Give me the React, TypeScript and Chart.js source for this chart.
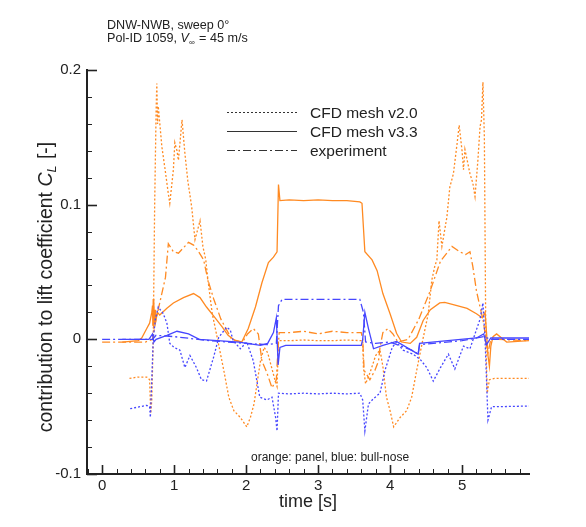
import React, { useEffect, useRef } from 'react';
import { Chart, registerables } from 'chart.js';

Chart.register(...registerables);

// ---------- data (time [s], contribution to C_L) ----------
const panelV20T = [0.38, 0.5, 0.62, 0.66, 0.675, 0.69, 0.71, 0.73, 0.75, 0.76, 0.77, 0.78, 0.81, 0.83, 0.875, 0.92, 0.94, 0.99, 1.01, 1.04, 1.06, 1.11, 1.15, 1.19, 1.245, 1.29, 1.36, 1.4, 1.44, 1.47, 1.53, 1.6, 1.69, 1.76, 1.83, 1.92, 2.01, 2.06, 2.11, 2.16, 2.2, 2.25, 2.3, 2.35, 2.4, 2.43, 2.45, 2.6, 2.8, 3.0, 3.2, 3.4, 3.6, 3.62, 3.63, 3.66, 3.72, 3.8, 3.86, 3.9, 3.95, 4.0, 4.05, 4.14, 4.23, 4.3, 4.37, 4.46, 4.53, 4.58, 4.62, 4.65, 4.68, 4.72, 4.79, 4.83, 4.88, 4.93, 4.96, 5.0, 5.02, 5.04, 5.11, 5.15, 5.18, 5.22, 5.25, 5.27, 5.29, 5.31, 5.33, 5.35, 5.38, 5.45, 5.93];
const panelV20CL = [-0.029, -0.028, -0.028, -0.03, -0.055, -0.045, 0.0, 0.1, 0.17, 0.19, 0.16, 0.173, 0.155, 0.143, 0.126, 0.108, 0.101, 0.126, 0.146, 0.14, 0.133, 0.163, 0.138, 0.118, 0.098, 0.074, 0.088, 0.069, 0.059, 0.044, 0.019, 0.001, -0.023, -0.043, -0.053, -0.058, -0.065, -0.058, -0.048, -0.03, -0.016, -0.006, -0.01, -0.02, -0.03, -0.035, -0.001, -0.001, -0.0005, -0.001, -0.001, -0.0005, -0.001, -0.001, -0.021, -0.033, -0.025, -0.012, -0.008, -0.02, -0.043, -0.053, -0.065, -0.058, -0.053, -0.043, -0.023, 0.001, 0.019, 0.044, 0.054, 0.059, 0.088, 0.069, 0.091, 0.113, 0.123, 0.145, 0.159, 0.14, 0.126, 0.141, 0.123, 0.116, 0.106, 0.133, 0.158, 0.163, 0.191, 0.15, 0.0, -0.04, -0.03, -0.029, -0.029];

const panelV33T = [0.28, 0.5, 0.55, 0.62, 0.66, 0.69, 0.7, 0.705, 0.71, 0.715, 0.72, 0.73, 0.74, 0.75, 0.77, 0.8, 0.9, 0.99, 1.13, 1.27, 1.36, 1.45, 1.57, 1.67, 1.75, 1.85, 1.94, 2.03, 2.13, 2.22, 2.31, 2.38, 2.43, 2.45, 2.47, 2.6, 2.8, 3.0, 3.2, 3.4, 3.58, 3.61, 3.65, 3.75, 3.82, 3.9, 4.0, 4.09, 4.16, 4.28, 4.37, 4.46, 4.56, 4.69, 4.76, 4.93, 5.07, 5.2, 5.28, 5.32, 5.34, 5.36, 5.38, 5.4, 5.43, 5.48, 5.55, 5.62, 5.93];
const panelV33CL = [-0.002, -0.001, 0.001, 0.008, 0.012, 0.02, 0.025, 0.01, 0.03, 0.008, 0.027, 0.012, 0.022, 0.015, 0.02, 0.018, 0.023, 0.027, 0.031, 0.034, 0.031, 0.024, 0.016, 0.009, 0.003, -0.001, -0.002, 0.008, 0.024, 0.042, 0.057, 0.061, 0.065, 0.115, 0.103, 0.1035, 0.103, 0.1035, 0.103, 0.103, 0.102, 0.101, 0.065, 0.059, 0.051, 0.034, 0.019, 0.0045, -0.002, -0.003, 0.0015, 0.014, 0.022, 0.027, 0.0275, 0.025, 0.023, 0.019, 0.016, 0.02, 0.005, -0.012, -0.02, -0.005, 0.002, 0.004, 0.001, -0.002, -0.001];

const panelExpT = [0.0, 0.3, 0.6, 0.7, 0.75, 0.8, 0.88, 0.92, 0.99, 1.06, 1.13, 1.2, 1.27, 1.33, 1.41, 1.47, 1.55, 1.65, 1.8, 1.95, 2.02, 2.1, 2.17, 2.22, 2.29, 2.36, 2.42, 2.44, 2.46, 2.6, 2.8, 3.0, 3.2, 3.4, 3.6, 3.62, 3.64, 3.72, 3.79, 3.84, 3.86, 3.9, 3.97, 4.04, 4.11, 4.25, 4.4, 4.55, 4.7, 4.86, 4.97, 5.05, 5.11, 5.15, 5.2, 5.25, 5.3, 5.33, 5.36, 5.4, 5.5, 5.93];
const panelExpCL = [-0.002, -0.002, -0.002, 0.0, 0.015, 0.027, 0.046, 0.071, 0.065, 0.064, 0.068, 0.072, 0.07, 0.066, 0.059, 0.044, 0.03, 0.015, 0.0, -0.002, 0.004, 0.008, 0.004, -0.016, -0.025, -0.036, -0.03, -0.01, 0.005, 0.005, 0.006, 0.004, 0.006, 0.005, 0.005, 0.0, -0.023, -0.03, -0.023, -0.016, -0.006, 0.005, 0.008, 0.004, -0.002, 0.0, 0.015, 0.035, 0.058, 0.069, 0.065, 0.063, 0.065, 0.054, 0.036, 0.024, 0.012, 0.0, -0.01, 0.0, 0.0, -0.001];

const noseV20T = [0.39, 0.62, 0.66, 0.67, 0.69, 0.71, 0.74, 0.78, 0.85, 0.9, 0.94, 1.0, 1.08, 1.15, 1.22, 1.31, 1.38, 1.45, 1.55, 1.62, 1.73, 1.78, 1.82, 1.92, 2.01, 2.1, 2.19, 2.29, 2.36, 2.41, 2.43, 2.45, 2.6, 2.8, 3.0, 3.2, 3.4, 3.58, 3.62, 3.65, 3.7, 3.77, 3.86, 3.93, 4.03, 4.09, 4.18, 4.32, 4.42, 4.51, 4.6, 4.7, 4.81, 4.9, 5.02, 5.11, 5.18, 5.25, 5.29, 5.32, 5.36, 5.41, 5.53, 5.94];
const noseV20CL = [-0.0515, -0.049, -0.05, -0.058, -0.03, 0.0, 0.015, 0.024, 0.019, 0.012, -0.003, -0.006, -0.008, -0.021, -0.012, -0.021, -0.03, -0.031, -0.013, 0.0015, 0.009, 0.007, -0.001, -0.007, -0.002, -0.016, -0.043, -0.045, -0.043, -0.058, -0.068, -0.04, -0.0405, -0.04, -0.0405, -0.04, -0.0405, -0.04, -0.045, -0.068, -0.048, -0.044, -0.04, -0.023, -0.006, -0.002, -0.008, -0.011, -0.015, -0.021, -0.031, -0.021, -0.011, -0.022, -0.005, -0.007, 0.004, 0.015, 0.027, 0.0, -0.06, -0.05, -0.05, -0.0495];

const noseV33T = [0.28, 0.65, 0.7, 0.72, 0.75, 0.9, 1.04, 1.2, 1.35, 1.6, 1.9, 2.2, 2.3, 2.38, 2.42, 2.445, 2.47, 2.55, 3.0, 3.6, 3.62, 3.65, 3.7, 3.77, 3.9, 4.09, 4.39, 4.41, 4.8, 5.2, 5.3, 5.34, 5.4, 5.93];
const noseV33CL = [0.0, 0.0, 0.004, -0.002, 0.0, 0.003, 0.006, 0.004, 0.0, -0.001, -0.002, -0.0045, -0.003, 0.005, 0.016, -0.019, -0.006, -0.0045, -0.0045, -0.0045, 0.0, 0.02, 0.008, -0.007, -0.0045, -0.0015, -0.011, -0.003, -0.001, 0.001, 0.004, -0.004, 0.001, 0.001];

const noseExpT = [0.0, 0.6, 0.7, 0.75, 1.0, 1.5, 2.0, 2.3, 2.42, 2.45, 2.5, 3.0, 3.58, 3.63, 3.66, 3.8, 4.0, 4.3, 4.39, 4.41, 5.0, 5.3, 5.4, 5.93];
const noseExpCL = [0.0, 0.0, 0.0, 0.003, 0.002, -0.001, -0.003, -0.004, -0.003, 0.025, 0.0297, 0.0297, 0.0297, 0.02, -0.002, -0.003, -0.002, -0.008, -0.011, -0.004, -0.001, 0.002, 0.0, 0.0];

const xTickValues = [0, 1, 2, 3, 4, 5];
const yTickValues = [-0.1, 0, 0.1, 0.2];
const legendLabels = ['CFD mesh v2.0', 'CFD mesh v3.3', 'experiment'];

// ---------- styling ----------
const ORANGE = '#ff8a22';
const BLUE = '#4646ff';
const FONT = '"Liberation Sans", Arial, Helvetica, sans-serif';
const DOT = [2, 2];
const DASHDOT = [8, 3, 2, 3];
const INK = '#222';

const pts = (t: number[], v: number[]) => t.map((x, i) => ({ x, y: v[i] }));

const decor = {
  id: 'decor',
  afterDraw(chart: any) {
    const { ctx, chartArea, scales } = chart;
    const xs = scales.x;
    const ys = scales.y;
    ctx.save();
    ctx.strokeStyle = INK;
    ctx.setLineDash([]);
    // inward x ticks
    for (let i = -1; i <= 29; i++) {
      const v = i * 0.2;
      if (v < xs.min - 1e-9 || v > xs.max + 1e-9) continue;
      const major = i % 5 === 0;
      const px = Math.round(xs.getPixelForValue(v)) + 0.5;
      ctx.lineWidth = major ? 1.6 : 1;
      ctx.beginPath();
      ctx.moveTo(px, chartArea.bottom);
      ctx.lineTo(px, chartArea.bottom - (major ? 9 : 5));
      ctx.stroke();
    }
    // inward y ticks
    for (let j = -5; j <= 10; j++) {
      const v = j * 0.02;
      const major = j % 5 === 0;
      const py = Math.round(ys.getPixelForValue(v)) + 0.5;
      ctx.lineWidth = major ? 1.6 : 1;
      ctx.beginPath();
      ctx.moveTo(chartArea.left, py);
      ctx.lineTo(chartArea.left + (major ? 10 : 5), py);
      ctx.stroke();
    }

    ctx.fillStyle = INK;
    ctx.textBaseline = 'alphabetic';
    ctx.textAlign = 'left';

    // header
    ctx.font = `12.6px ${FONT}`;
    ctx.fillText('DNW-NWB, sweep 0\u00B0', 107, 29);
    let hx = 107;
    const hy = 42;
    const p1 = 'Pol-ID 1059, ';
    ctx.fillText(p1, hx, hy);
    hx += ctx.measureText(p1).width;
    ctx.font = `italic 12.6px ${FONT}`;
    ctx.fillText('V', hx, hy);
    hx += ctx.measureText('V').width;
    ctx.font = `8px ${FONT}`;
    ctx.fillText('\u221E', hx, hy + 3);
    hx += ctx.measureText('\u221E').width + 1;
    ctx.font = `12.6px ${FONT}`;
    ctx.fillText(' = 45 m/s', hx, hy);

    // legend
    const legY = [112, 131, 150];
    const dashes = [DOT, [], DASHDOT];
    for (let k = 0; k < 3; k++) {
      ctx.strokeStyle = '#333';
      ctx.lineWidth = 1;
      ctx.setLineDash(dashes[k]);
      ctx.beginPath();
      ctx.moveTo(227, legY[k] + 0.5);
      ctx.lineTo(297, legY[k] + 0.5);
      ctx.stroke();
      ctx.setLineDash([]);
      ctx.font = `15.5px ${FONT}`;
      ctx.fillStyle = INK;
      ctx.fillText(legendLabels[k], 310, legY[k] + 6);
    }

    // annotation
    ctx.font = `12px ${FONT}`;
    ctx.fillText('orange: panel, blue: bull-nose', 251, 461);

    // x title
    ctx.font = `18px ${FONT}`;
    ctx.textAlign = 'center';
    ctx.fillText('time [s]', (chartArea.left + chartArea.right) / 2, 507);

    // y title (rotated, with italic C and subscript L)
    ctx.save();
    ctx.translate(52, 287);
    ctx.rotate(-Math.PI / 2);
    ctx.textAlign = 'left';
    const a = 'contribution to lift coefficient ';
    const c = 'C';
    const l = 'L';
    const b = ' [-]';
    const fs = 19.5;
    ctx.font = `${fs}px ${FONT}`;
    const wa = ctx.measureText(a).width;
    const wb = ctx.measureText(b).width;
    ctx.font = `italic ${fs}px ${FONT}`;
    const wc = ctx.measureText(c).width;
    ctx.font = `italic 12.5px ${FONT}`;
    const wl = ctx.measureText(l).width;
    const total = wa + wc + wl + 1 + wb;
    let tx = -total / 2;
    ctx.font = `${fs}px ${FONT}`;
    ctx.fillText(a, tx, 0);
    tx += wa;
    ctx.font = `italic ${fs}px ${FONT}`;
    ctx.fillText(c, tx, 0);
    tx += wc;
    ctx.font = `italic 12.5px ${FONT}`;
    ctx.fillText(l, tx, 4);
    tx += wl + 1;
    ctx.font = `${fs}px ${FONT}`;
    ctx.fillText(b, tx, 0);
    ctx.restore();

    ctx.restore();
  },
};

export default function App() {
  const ref = useRef<HTMLCanvasElement | null>(null);

  useEffect(() => {
    if (!ref.current) return;
    const mk = (label: string, t: number[], v: number[], color: string, dash: number[]) => ({
      label,
      data: pts(t, v),
      borderColor: color,
      backgroundColor: color,
      borderWidth: 1.3,
      borderDash: dash,
      pointRadius: 0,
      tension: 0,
      fill: false,
    });
    const chart = new Chart(ref.current, {
      type: 'line',
      data: {
        datasets: [
          mk('bull-nose CFD mesh v2.0', noseV20T, noseV20CL, BLUE, DOT),
          mk('bull-nose CFD mesh v3.3', noseV33T, noseV33CL, BLUE, []),
          mk('bull-nose experiment', noseExpT, noseExpCL, BLUE, DASHDOT),
          mk('panel CFD mesh v2.0', panelV20T, panelV20CL, ORANGE, DOT),
          mk('panel CFD mesh v3.3', panelV33T, panelV33CL, ORANGE, []),
          mk('panel experiment', panelExpT, panelExpCL, ORANGE, DASHDOT),
        ],
      },
      options: {
        animation: false,
        responsive: false,
        events: [],
        layout: { padding: { top: 70, right: 57, left: 0, bottom: 0 } },
        plugins: { legend: { display: false }, tooltip: { enabled: false }, title: { display: false } },
        scales: {
          x: {
            type: 'linear',
            min: -0.21,
            max: 5.93,
            afterFit: (s: any) => { s.height = 53; },
            afterBuildTicks: (s: any) => { s.ticks = xTickValues.map((value) => ({ value })); },
            grid: { display: true, drawOnChartArea: false, drawTicks: false, color: 'rgba(0,0,0,0)' },
            border: { display: true, color: INK, width: 2 },
            ticks: {
              padding: 3,
              color: INK,
              font: { family: FONT, size: 15 },
              maxRotation: 0,
              callback: (v: any) => String(Math.round(Number(v))),
            },
          },
          y: {
            type: 'linear',
            min: -0.1,
            max: 0.2,
            afterFit: (s: any) => { s.width = 87; },
            afterBuildTicks: (s: any) => { s.ticks = yTickValues.map((value) => ({ value })); },
            grid: { display: true, drawOnChartArea: false, drawTicks: false, color: 'rgba(0,0,0,0)' },
            border: { display: true, color: INK, width: 2 },
            ticks: {
              padding: 6,
              color: INK,
              font: { family: FONT, size: 15 },
              callback: (v: any) => String(Number(Number(v).toFixed(2))),
            },
          },
        },
      },
      plugins: [decor],
    } as any);
    return () => chart.destroy();
  }, []);

  return (
    <div style={{ position: 'absolute', left: 0, top: 0, width: 586, height: 527, background: '#fff' }}>
      <canvas ref={ref} width={586} height={527} style={{ display: 'block', width: 586, height: 527 }} />
    </div>
  );
}
